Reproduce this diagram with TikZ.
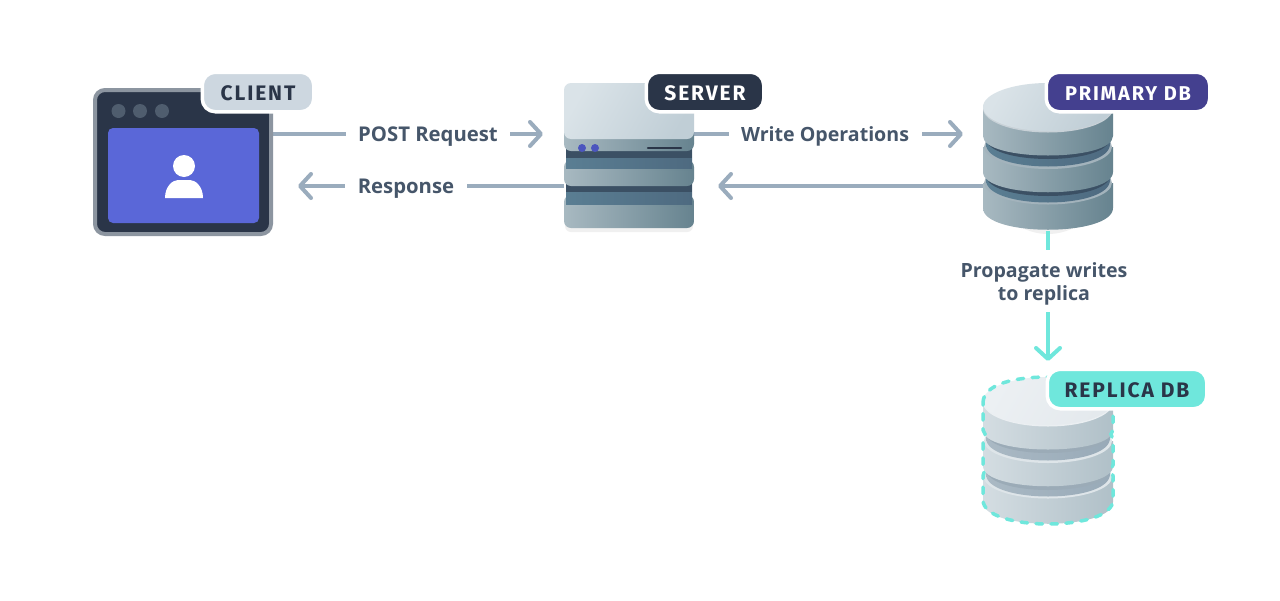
\documentclass[tikz,border=0pt]{standalone}
\usepackage{fontspec}
\usetikzlibrary{arrows.meta}
\setmainfont{Open Sans}
\newfontfamily\badgefont[LetterSpace=9]{Fira Sans}
\definecolor{wirecol}{HTML}{9AACBD}
\definecolor{tealcol}{HTML}{6FE7DC}
\definecolor{txtcol}{HTML}{46566A}
\definecolor{navy}{HTML}{2A3548}
\definecolor{frame}{HTML}{8C95A0}
\definecolor{blueish}{HTML}{5A67D8}
\definecolor{purple}{HTML}{44408F}
\definecolor{silver}{HTML}{CDD7E0}
\definecolor{dotcol}{HTML}{4F5D6E}
\definecolor{sideL}{HTML}{A8B9C1}
\definecolor{sideR}{HTML}{66838F}
\definecolor{topL}{HTML}{DAE3E8}
\definecolor{topR}{HTML}{C0CED6}
\definecolor{bandL}{HTML}{5A7E93}
\definecolor{bandR}{HTML}{4E6A80}
\definecolor{bandD}{HTML}{3B5064}
\definecolor{hiP}{HTML}{A3B3BC}
\definecolor{ledcol}{HTML}{4B55BE}
\definecolor{rsideL}{HTML}{D4DDE2}
\definecolor{rsideR}{HTML}{B0C0C8}
\definecolor{rtopL}{HTML}{ECF0F3}
\definecolor{rtopR}{HTML}{E4E9ED}
\definecolor{rbandL}{HTML}{AAB9C4}
\definecolor{rbandR}{HTML}{98AAB8}
\definecolor{rbandD}{HTML}{9BABB7}
\definecolor{hiR}{HTML}{DEE5E9}
\tikzset{
  wire/.style={draw=wirecol,line width=4pt},
  tealwire/.style={draw=tealcol,line width=4pt},
  tip/.style={-{Straight Barb[round,length=11pt,width=24pt]}},
  flowlabel/.style={fill=white,text=txtcol,font=\fontsize{#1}{23}\selectfont\bfseries,inner xsep=12.5pt,inner ysep=3pt,align=center},
  flowlabel/.default=19.6,
  oneline/.style={text height=14pt,text depth=0pt},
  iconbox/.style={inner sep=0pt,outer sep=0pt},
  badge/.style={rounded corners=13pt,draw=white,line width=3.5pt,minimum height=39.5pt,inner sep=0pt,text height=16.5pt,text depth=0pt,font=\badgefont\fontsize{#1}{24}\selectfont\bfseries},
  badge/.default=21,
}
% front-curved section of a database
\newcommand{\dbsec}[4]{% top, bottom, x half width, bulge
  (1048-#3,#1) -- (1048-#3,#2) .. controls (1048-#3,#2+#4) and (1048+#3,#2+#4) .. (1048+#3,#2) -- (1048+#3,#1) -- cycle}
\newcommand{\dbstack}[8]{% sideL sideR topL topR bandL bandR dark hi
  \shade[left color=#1,right color=#2] \dbsec{183}{208}{65}{29};
  \fill[#8] (1048,183) ellipse [x radius=64,y radius=21.5];
  \shade[left color=#5,right color=#6] \dbsec{170}{180}{62}{30};
  \fill[#7] \dbsec{170}{175}{62}{28};
  \shade[left color=#1,right color=#2] \dbsec{147}{172}{65}{27};
  \fill[#8] (1048,147) ellipse [x radius=64,y radius=22];
  \shade[left color=#5,right color=#6] \dbsec{130}{144}{62}{30};
  \fill[#7] \dbsec{130}{138}{62}{28};
  \shade[left color=#1,right color=#2] \dbsec{107}{136}{65}{26};
  \fill[#8!60!white] (1048,108.5) ellipse [x radius=65,y radius=24];
  \shade[left color=#3,right color=#4,shading angle=60] (1048,107) ellipse [x radius=65,y radius=24];
}
\begin{document}
\begin{tikzpicture}[x=1pt,y=-1pt]
\useasboundingbox (0,0) rectangle (1280,600);
\fill[white] (0,0) rectangle (1280,600);
% named anchors
\node[iconbox,minimum width=180pt,minimum height=148pt] (client) at (183,162) {};
\node[iconbox,minimum width=130pt,minimum height=145pt] (server) at (629,155.5) {};
\node[iconbox,minimum width=130pt,minimum height=148pt] (primary) at (1048,157) {};
\node[iconbox,minimum width=130pt,minimum height=148pt] (replica) at (1048,451) {};
\coordinate (postEnd) at (543,134);
\coordinate (respEnd) at (298,186);
\coordinate (writeEnd) at (963,134);
\coordinate (ackEnd) at (718,186);
\coordinate (propEnd) at (1048,361);
% soft shadow under the primary db
\fill[black!6] (1048,160) ellipse [x radius=64,y radius=74];
% connectors
\draw[wire,tip] (client.east |- postEnd) -- (postEnd);
\draw[wire,tip] (server.west |- respEnd) -- (respEnd);
\draw[wire,tip] (server.east |- writeEnd) -- (writeEnd);
\draw[wire,tip] (primary.west |- ackEnd) -- (ackEnd);
\draw[tealwire,tip] (primary.south) -- (propEnd);
% client icon
\node[draw=frame,fill=navy,line width=4pt,rounded corners=10pt,minimum width=176pt,minimum height=144pt,inner sep=0pt] at (client.center) {};
\fill[blueish,rounded corners=5pt] (108,128) rectangle (259,223);
\foreach \cx in {118.5,140,162} \fill[dotcol] (\cx,111) circle (7pt);
\fill[white] (184,166) circle (11pt);
\fill[white] (165,198) .. controls (165,186) and (173,180) .. (178,180) -- (190,180) .. controls (195,180) and (203,186) .. (203,198) -- cycle;
% server icon
\fill[black!6,rounded corners=6pt] (565,205) rectangle (693,232);
\shade[left color=sideL,right color=sideR,rounded corners=7pt] (564,195) rectangle (694,228);
\shade[left color=sideL,middle color=hiP!50!white,right color=sideR] (566,204) rectangle (692,206.5);
\shade[left color=bandL,right color=bandR] (566,180) rectangle (692,204);
\fill[bandD] (566,180) rectangle (692,192);
\shade[left color=sideL,right color=sideR,rounded corners=7pt] (564,160) rectangle (694,186);
\shade[left color=sideL,middle color=hiP!50!white,right color=sideR] (566,168) rectangle (692,170.5);
\shade[left color=bandL,right color=bandR] (566,145) rectangle (692,168);
\fill[bandD] (566,145) rectangle (692,157.5);
\shade[left color=sideL,right color=sideR,rounded corners=7pt] (564,125) rectangle (694,151);
\shade[left color=topL,right color=topR,shading angle=60,rounded corners=7pt] (564,83) rectangle (694,139);
\fill[ledcol] (582,148) circle (4pt) (595,148) circle (4pt);
\draw[navy,line width=2.5pt,line cap=round] (648,148) -- (681,148);
% primary db
\dbstack{sideL}{sideR}{topL}{topR}{bandL}{bandR}{bandD}{hiP}
% replica db
\begin{scope}[shift={(0,294)}]
\dbstack{rsideL}{rsideR}{rtopL}{rtopR}{rbandL}{rbandR}{rbandD}{hiR}
\draw[tealcol,line width=3.5pt,dash pattern=on 6.5pt off 8.5pt,line cap=round]
  (983,109) .. controls (983,90) and (1015,83) .. (1048,83)
  .. controls (1081,83) and (1113,90) .. (1113,109)
  -- (1113,136) -- (1111,140) -- (1113,146) -- (1113,171) -- (1111,175) -- (1113,182) -- (1113,206)
  .. controls (1113,238) and (983,238) .. (983,206)
  -- (983,182) -- (985,175) -- (983,171) -- (983,146) -- (985,140) -- (983,136) -- cycle;
\end{scope}
% connector labels
\node[flowlabel=20.3,oneline] (postLabel) at (428,134) {POST Request};
\node[flowlabel=20.3,oneline] (respLabel) at (406,186) {Response};
\node[flowlabel,oneline] (writeLabel) at (825,134) {Write Operations};
\node[flowlabel,minimum height=62pt,inner xsep=4pt] (propLabel) at (1044,281) {\rule{0pt}{20pt}Propagate writes\\to replica};
% badges
\node[badge,fill=silver,text=navy,minimum width=111.5pt] (clientBadge) at (258,92) {CLIENT};
\node[badge,fill=navy,text=white,minimum width=117.5pt] (serverBadge) at (705,92) {SERVER};
\node[badge=20,fill=purple,text=white,minimum width=163.5pt] (primaryBadge) at (1128,92) {PRIMARY DB};
\node[badge,fill=tealcol,text=navy,minimum width=159.5pt] (replicaBadge) at (1127,389) {REPLICA DB};
\end{tikzpicture}
\end{document}
